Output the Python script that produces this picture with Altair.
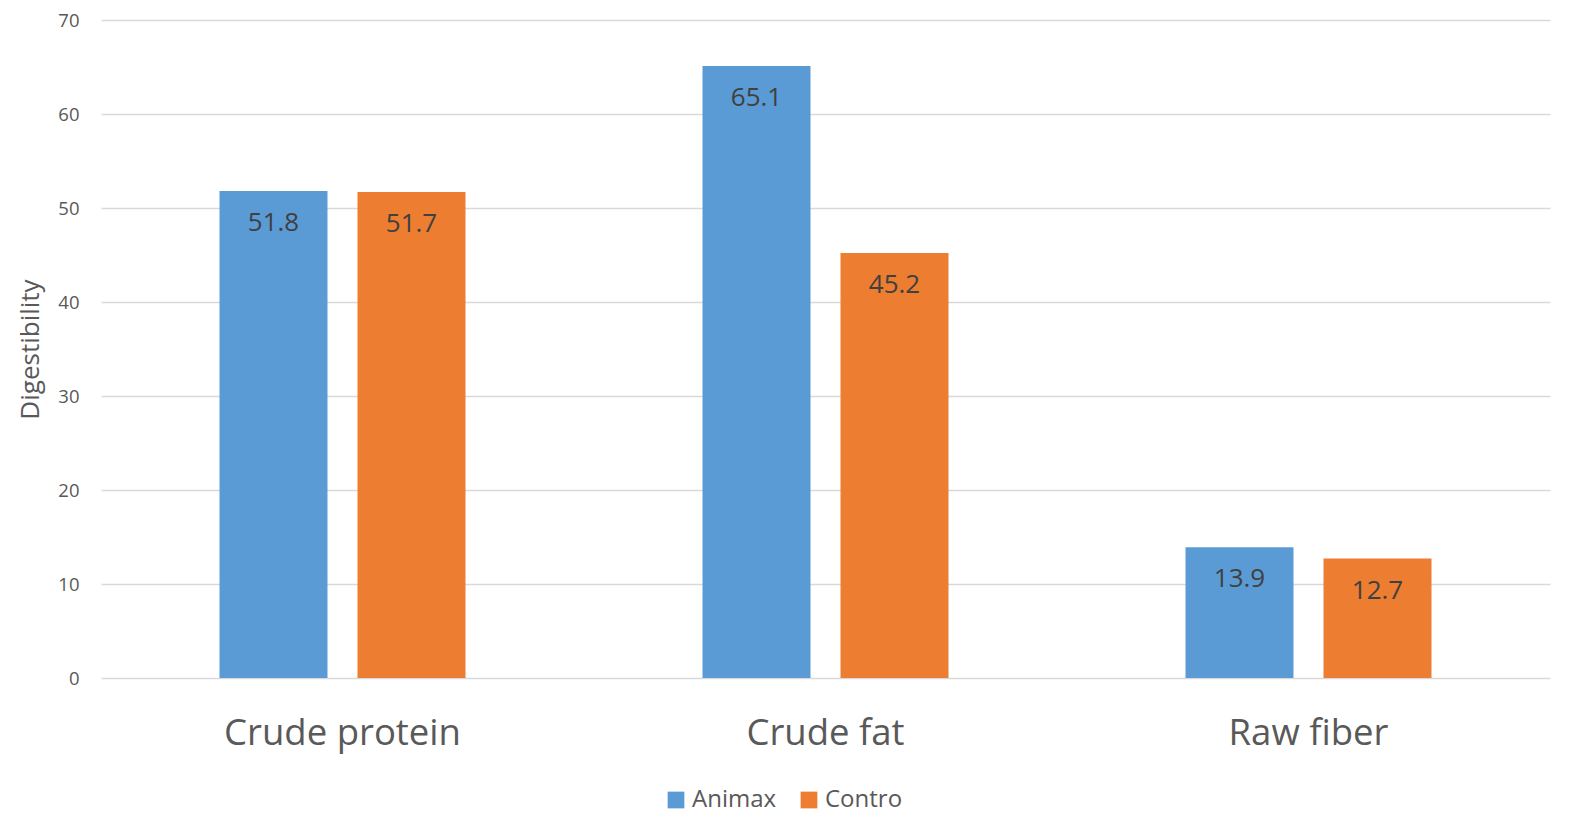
import altair as alt
import pandas as pd

categories = ["Crude protein", "Crude fat", "Raw fiber"]
series = ["Animax", "Contro"]
animax = [51.8, 65.1, 13.9]
contro = [51.7, 45.2, 12.7]
colors = ["#5B9BD5", "#ED7D31"]

rows = []
for i, c in enumerate(categories):
    rows.append({"cat": c, "series": series[0], "value": animax[i]})
    rows.append({"cat": c, "series": series[1], "value": contro[i]})
df = pd.DataFrame(rows)

FONT = "Open Sans"

x = alt.X("cat:N", sort=categories, title=None,
          scale=alt.Scale(paddingInner=0, paddingOuter=0),
          axis=alt.Axis(labelAngle=0, labelFontSize=36.5, labelColor="#595959",
                        labelPadding=37, ticks=False, domain=False, labelFont=FONT,
                        labelLimit=0))
xo = alt.XOffset("series:N", sort=series,
                 scale=alt.Scale(paddingInner=0.2174, paddingOuter=0.8587))
y = alt.Y("value:Q", title="Digestibility",
          scale=alt.Scale(domain=[0, 70], nice=False),
          axis=alt.Axis(values=[0, 10, 20, 30, 40, 50, 60, 70], labelFontSize=18.5,
                        labelColor="#595959", labelPadding=22, ticks=False, domain=False,
                        gridColor="#D9D9D9", gridWidth=1.5, titleFontSize=26,
                        titleFontWeight="normal", titleColor="#595959", titlePadding=14,
                        labelFont=FONT, titleFont=FONT))

bars = alt.Chart(df).mark_bar().encode(
    x=x, xOffset=xo, y=y,
    color=alt.Color("series:N", sort=series,
                    scale=alt.Scale(domain=series, range=colors),
                    legend=alt.Legend(title=None, orient="none", direction="horizontal",
                                      legendX=563, legendY=768, symbolType="square",
                                      symbolSize=280, symbolStrokeWidth=0,
                                      labelFontSize=24, labelColor="#595959",
                                      labelFont=FONT, columnPadding=20, symbolOpacity=1)),
)

labels = alt.Chart(df).mark_text(baseline="middle", dy=32, fontSize=26, color="#404040",
                                 font=FONT).encode(
    x=alt.X("cat:N", sort=categories), xOffset=alt.XOffset("series:N", sort=series),
    y=alt.Y("value:Q"), text=alt.Text("value:Q", format=".1f"))

chart = (bars + labels).properties(
    width=1449, height=658,
    autosize=alt.AutoSizeParams(type="none"),
    padding={"left": 93, "top": 12, "right": 20, "bottom": 137},
).configure_view(stroke=None).configure_axisX(grid=False)

chart.save("out.html", embed_options={"renderer": "svg", "actions": False})
